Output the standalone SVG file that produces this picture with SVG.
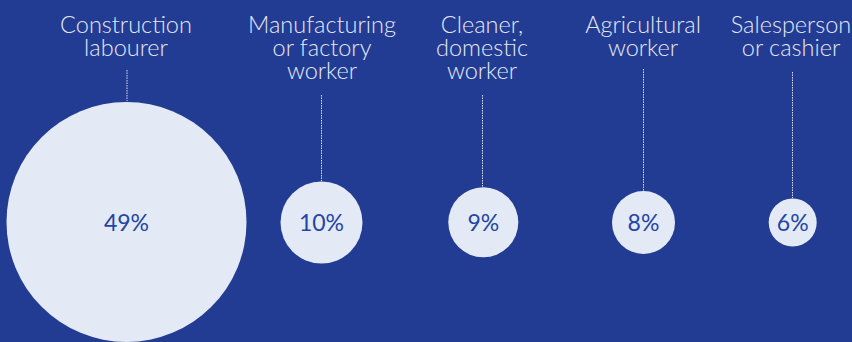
<svg xmlns="http://www.w3.org/2000/svg" width="852" height="342" viewBox="0 0 852 342">
<style>
.lbl{font-family:Lato,"Liberation Sans",sans-serif;font-weight:300;font-size:23.5px;fill:#e3e8f5;text-anchor:middle}
.pct{font-family:Lato,"Liberation Sans",sans-serif;font-weight:400;font-size:23px;fill:#1f45a8;text-anchor:middle}
.bub{fill:#e4eaf5}
.con{stroke:#d8def0;stroke-width:1;stroke-dasharray:1.5 1;fill:none}
</style>
<rect width="852" height="342" fill="#233c93"/>
<g id="connectors">
<line class="con" x1="127" y1="70" x2="127" y2="101"/>
<line class="con" x1="321.5" y1="95" x2="321.5" y2="181"/>
<line class="con" x1="482.5" y1="95" x2="482.5" y2="187"/>
<line class="con" x1="643.5" y1="69" x2="643.5" y2="191"/>
<line class="con" x1="792.5" y1="72" x2="792.5" y2="198"/>
</g>
<g id="construction">
<circle class="bub" cx="126.5" cy="222" r="120"/>
<text class="lbl" x="126" y="33">Construction</text>
<text class="lbl" x="126" y="56">labourer</text>
<text class="pct" x="126.5" y="231">49%</text>
</g>
<g id="manufacturing">
<circle class="bub" cx="321.5" cy="222.5" r="41"/>
<text class="lbl" x="322" y="33">Manufacturing</text>
<text class="lbl" x="322" y="56">or factory</text>
<text class="lbl" x="322" y="79">worker</text>
<text class="pct" x="321.5" y="231">10%</text>
</g>
<g id="cleaner">
<circle class="bub" cx="483.3" cy="222.3" r="35"/>
<text class="lbl" x="482" y="33">Cleaner,</text>
<text class="lbl" x="482" y="56">domestic</text>
<text class="lbl" x="482" y="79">worker</text>
<text class="pct" x="483.3" y="231">9%</text>
</g>
<g id="agricultural">
<circle class="bub" cx="643.5" cy="222.5" r="31.5"/>
<text class="lbl" x="643" y="33">Agricultural</text>
<text class="lbl" x="643" y="56">worker</text>
<text class="pct" x="643.5" y="231">8%</text>
</g>
<g id="salesperson">
<circle class="bub" cx="792.7" cy="222.5" r="24"/>
<text class="lbl" x="791" y="33">Salesperson</text>
<text class="lbl" x="791" y="56">or cashier</text>
<text class="pct" x="792.7" y="231">6%</text>
</g>
</svg>
